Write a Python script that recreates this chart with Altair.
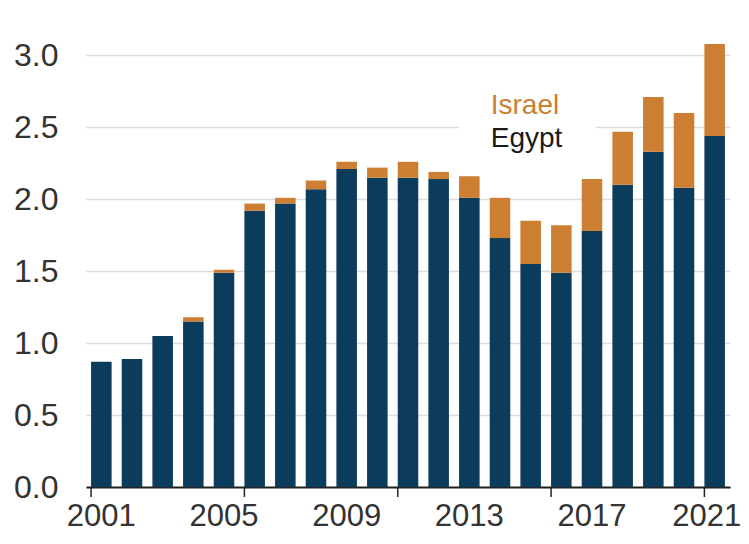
import altair as alt
import pandas as pd

years = [str(y) for y in range(2001, 2022)]
egypt = [0.87, 0.89, 1.05, 1.15, 1.49, 1.92, 1.97, 2.07, 2.21, 2.15, 2.15,
         2.14, 2.01, 1.73, 1.55, 1.49, 1.78, 2.10, 2.33, 2.08, 2.44]
israel = [0.0, 0.0, 0.0, 0.03, 0.02, 0.05, 0.04, 0.06, 0.05, 0.07, 0.11,
          0.05, 0.15, 0.28, 0.30, 0.33, 0.36, 0.37, 0.38, 0.52, 0.64]
label_years = ["2001", "2005", "2009", "2013", "2017", "2021"]
tick_years = ["2001", "2006", "2011", "2016", "2021"]
y_ticks = [0.0, 0.5, 1.0, 1.5, 2.0, 2.5, 3.0]
legend_names = ["Israel", "Egypt"]
legend_y = [2.59, 2.36]

EGYPT_C = "#0c3c5c"
ISRAEL_C = "#cc7f33"
FONT = "Liberation Sans"

rows = []
for i, y in enumerate(years):
    rows.append({"year": y, "country": "Egypt", "value": egypt[i], "ord": 0})
    rows.append({"year": y, "country": "Israel", "value": israel[i], "ord": 1})
df = pd.DataFrame(rows)

xscale = alt.Scale(domain=years, paddingInner=0.33, paddingOuter=0.165)
yscale = alt.Scale(domain=[0, 3.1], nice=False)

xaxis = alt.Axis(values=label_years, labelAngle=0, ticks=False,
                 domainColor="#222222", domainWidth=2,
                 labelFont=FONT, labelFontSize=31, labelColor="#333333",
                 labelPadding=14,
                 labelOffset={"condition": {"test": "datum.value == '2021'", "value": -8}, "value": 0})
yaxis = alt.Axis(values=y_ticks, format=".1f", grid=True,
                 gridColor="#dcdcdc", gridWidth=1.5, domain=False,
                 ticks=False, labelFont=FONT, labelFontSize=32,
                 labelColor="#333333", labelPadding=28)

bars = alt.Chart(df).mark_bar().encode(
    x=alt.X("year:O", scale=xscale, title=None, axis=xaxis),
    y=alt.Y("value:Q", stack="zero", scale=yscale, title=None, axis=yaxis),
    color=alt.Color("country:N",
                    scale=alt.Scale(domain=["Egypt", "Israel"], range=[EGYPT_C, ISRAEL_C]),
                    legend=None),
    order=alt.Order("ord:Q"),
)

box_df = pd.DataFrame({"x0": ["2013"], "x1": ["2017"], "y0": [2.3], "y1": [2.85]})
box = alt.Chart(box_df).mark_rect(color="white").encode(
    x=alt.X("x0:O", bandPosition=0, title=None),
    x2=alt.X2("x1", bandPosition=0.7),
    y=alt.Y("y0:Q", title=None),
    y2="y1",
)

leg_df = pd.DataFrame({"name": legend_names, "yv": legend_y, "xv": ["2014", "2014"]})
leg = alt.Chart(leg_df).mark_text(align="left", baseline="alphabetic", font=FONT,
                                  fontSize=28, dx=1).encode(
    x=alt.X("xv:O", bandPosition=0, title=None),
    y=alt.Y("yv:Q", title=None),
    text="name:N",
    color=alt.Color("name:N", scale=alt.Scale(domain=["Israel", "Egypt"], range=[ISRAEL_C, "#1a1a1a"]), legend=None),
)

tick_df = pd.DataFrame({"t": tick_years})
ticks = alt.Chart(tick_df).mark_rule(color="#222222", strokeWidth=1.5).encode(
    x=alt.X("t:O", bandPosition=0, title=None),
    y=alt.value(446),
    y2=alt.value(456),
)

chart = alt.layer(bars, box, ticks, leg).resolve_scale(color="independent").properties(
    width=644, height=446,
    padding={"left": 5, "top": 31, "right": 0, "bottom": 0},
).configure_view(stroke=None)

chart.save("out.html", embed_options={"renderer": "svg", "actions": False})
